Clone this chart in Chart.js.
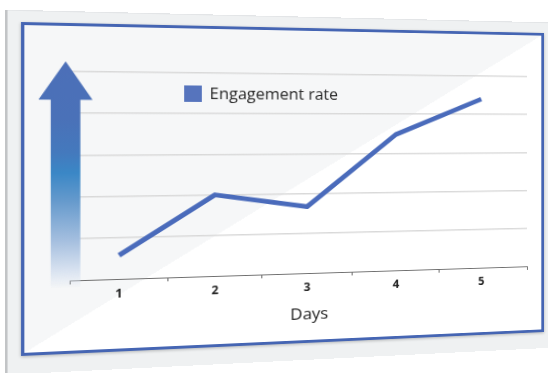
<!DOCTYPE html>
<html>
<head>
<meta charset="utf-8">
<script src="https://cdn.jsdelivr.net/npm/chart.js@4.4.1/dist/chart.umd.min.js"></script>
<style>
    html, body { margin: 0; padding: 0; background: #fff; width: 548px; height: 373px; overflow: hidden; }
    #scene { position: absolute; left: 0; top: 0; width: 523px; height: 334px; transform-origin: 0 0; }
    #backing { position: absolute; left: -14px; top: -12px; width: 640px; height: 364px; background: #eff1f2; border-left: 2px solid #c2c4c6; box-shadow: inset 0 1px 0 #e3e5e7; }
    #board { position: absolute; left: 0; top: 0; width: 523px; height: 334px; box-sizing: border-box; border: 3px solid #4565b3; background: linear-gradient(to bottom right, #f6f7f8 50%, #ffffff 50%); box-shadow: 0 1px 3px rgba(0,0,0,0.25); }
    #chartBox { position: absolute; left: 0; top: 0; width: 523px; height: 334px; }
    #arrow { position: absolute; left: 15.7px; top: 38.8px; width: 49.3px; height: 229px;
        clip-path: polygon(24.65px 0, 49.3px 38.7px, 38.1px 38.7px, 38.1px 100%, 11.1px 100%, 11.1px 38.7px, 0 38.7px);
        background: linear-gradient(to bottom, #4c6fb8 0%, #4a71b8 25%, #4479bd 40%, #3a87c6 49%, #6499cc 61%, #a5bfdf 79%, #d8e2f0 92%, rgba(245,247,250,0) 100%); }
    #legend { position: absolute; left: 150.5px; top: 59px; height: 22px; display: flex; align-items: center; font: 16px 'Open Sans', sans-serif; color: #262626; white-space: nowrap; }
    #legend .swatch { width: 17px; height: 17px; margin-right: 8px; }
</style>
</head>
<body>
<div id="scene">
    <div id="backing"></div>
    <div id="board"></div>
    <div id="chartBox"><canvas id="engagementChart" width="523" height="334"></canvas></div>
    <div id="arrow"></div>
    <div id="legend"></div>
</div>
<script>
const days = [1, 2, 3, 4, 5];
const engagement = [0.57, 2.0, 1.67, 3.48, 4.4];
const seriesLabel = 'Engagement rate';
const axisTitle = 'Days';
const xMin = 0.5, xMax = 5.55;
const yMin = 0, yMax = 5;

const FONT = "'Open Sans', sans-serif";
const LINE_COLOR = '#4a6bbb';

// --- perspective: map the flat 523x334 board onto the tilted frame of the picture
function adj(m) {
    return [
        m[4] * m[8] - m[5] * m[7], m[2] * m[7] - m[1] * m[8], m[1] * m[5] - m[2] * m[4],
        m[5] * m[6] - m[3] * m[8], m[0] * m[8] - m[2] * m[6], m[2] * m[3] - m[0] * m[5],
        m[3] * m[7] - m[4] * m[6], m[1] * m[6] - m[0] * m[7], m[0] * m[4] - m[1] * m[3]
    ];
}
function multmm(a, b) {
    const c = [];
    for (let i = 0; i < 3; i++) for (let j = 0; j < 3; j++) {
        let s = 0;
        for (let k = 0; k < 3; k++) s += a[3 * i + k] * b[3 * k + j];
        c[3 * i + j] = s;
    }
    return c;
}
function multmv(m, v) {
    return [m[0] * v[0] + m[1] * v[1] + m[2] * v[2], m[3] * v[0] + m[4] * v[1] + m[5] * v[2], m[6] * v[0] + m[7] * v[1] + m[8] * v[2]];
}
function basisToPoints(p) {
    const m = [p[0][0], p[1][0], p[2][0], p[0][1], p[1][1], p[2][1], 1, 1, 1];
    const v = multmv(adj(m), [p[3][0], p[3][1], 1]);
    return multmm(m, [v[0], 0, 0, 0, v[1], 0, 0, 0, v[2]]);
}
function projectScene(el, src, dst) {
    const t = multmm(basisToPoints(dst), adj(basisToPoints(src)));
    for (let i = 0; i < 9; i++) t[i] = t[i] / t[8];
    el.style.transform = `matrix3d(${t[0]},${t[3]},0,${t[6]},${t[1]},${t[4]},0,${t[7]},0,0,1,0,${t[2]},${t[5]},0,${t[8]})`;
}
projectScene(document.getElementById('scene'),
    [[0, 0], [523, 0], [0, 334], [523, 334]],
    [[21, 22], [544, 33], [21, 356], [544, 332]]);

// tick marks sit between the day labels
const xTicks = [xMin, ...days.flatMap(d => [d, d + 0.5]).slice(0, -1), xMax];

const chart = new Chart(document.getElementById('engagementChart'), {
    type: 'line',
    data: {
        datasets: [{
            label: seriesLabel,
            data: days.map((d, i) => ({ x: d, y: engagement[i] })),
            borderColor: LINE_COLOR,
            backgroundColor: '#5674bd',
            borderWidth: 5,
            borderJoinStyle: 'round',
            pointRadius: 0,
            tension: 0
        }]
    },
    options: {
        responsive: false,
        animation: false,
        layout: { padding: { left: 44, right: 19, top: 49, bottom: 0 } },
        plugins: { legend: { display: false }, tooltip: { enabled: false } },
        scales: {
            x: {
                type: 'linear', min: xMin, max: xMax,
                afterBuildTicks: s => { s.ticks = xTicks.map(v => ({ value: v })); },
                afterFit: s => { s.height = 74; },
                ticks: {
                    autoSkip: false, maxRotation: 0, padding: 4, color: '#222',
                    font: { family: FONT, size: 12, weight: 'bold' },
                    callback: v => Number.isInteger(v) ? String(v) : ''
                },
                grid: {
                    drawOnChartArea: false, tickLength: 4, lineWidth: 1,
                    color: c => Number.isInteger(c.tick && c.tick.value) ? 'rgba(0,0,0,0)' : '#666'
                },
                border: { color: '#6f6f6f', width: 1 },
                title: { display: true, text: axisTitle, color: '#1e1e1e', font: { family: FONT, size: 17 }, padding: { top: 11, bottom: 20 } }
            },
            y: {
                min: yMin, max: yMax,
                afterFit: s => { s.width = 0; },
                ticks: { display: false, stepSize: 1 },
                grid: { drawTicks: false, lineWidth: 1.5, color: c => c.tick && c.tick.value === 0 ? 'rgba(0,0,0,0)' : '#d9d9d9' },
                border: { display: false }
            }
        }
    }
});

// legend built from the dataset
const legendEl = document.getElementById('legend');
legendEl.innerHTML = chart.data.datasets
    .map(ds => `<span class="swatch" style="background:${ds.backgroundColor}"></span><span>${ds.label}</span>`)
    .join('');
</script>
</body>
</html>
